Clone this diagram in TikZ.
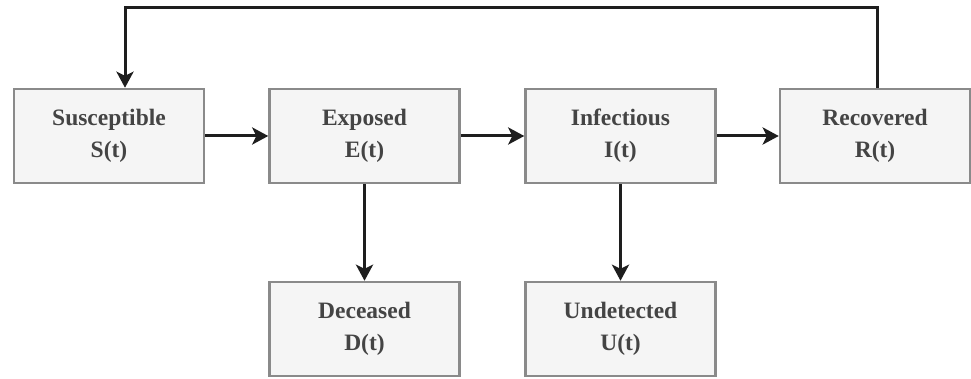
\documentclass[tikz,border=0pt]{standalone}
\usepackage{fontspec}
\setmainfont{Liberation Serif}
\usetikzlibrary{arrows.meta}
\definecolor{boxfill}{HTML}{F5F5F5}
\definecolor{boxline}{HTML}{8A8A8A}
\definecolor{txt}{HTML}{444444}
\definecolor{arr}{HTML}{1E1E1E}
\tikzset{
  stagebox/.style={draw=boxline, line width=2.5pt, fill=boxfill, minimum width=190pt, minimum height=94pt,
    inner sep=0pt, align=center, text=txt, font=\fontsize{23.5}{32}\selectfont\bfseries},
  flow/.style={draw=arr, line width=3pt, -{Stealth[length=16pt,width=17pt,inset=4pt]}}
}
\begin{document}
\begin{tikzpicture}[x=1pt,y=-1pt]
\useasboundingbox (0,0) rectangle (971,379);
\node[stagebox] (S) at (109,136) {Susceptible\\S(t)};
\node[stagebox] (E) at (364.5,136) {Exposed\\E(t)};
\node[stagebox] (I) at (620.5,136) {Infectious\\I(t)};
\node[stagebox] (R) at (875,136) {Recovered\\R(t)};
\node[stagebox] (D) at (364.5,329) {Deceased\\D(t)};
\node[stagebox] (U) at (620.5,329) {Undetected\\U(t)};
\coordinate (top) at (125,8);
\draw[flow] (S) -- (E);
\draw[flow] (E) -- (I);
\draw[flow] (I) -- (R);
\draw[flow] (E) -- (D);
\draw[flow] (I) -- (U);
\draw[flow] (R.north -| 877,0) |- (top) -- (top |- S.north);
\end{tikzpicture}
\end{document}
